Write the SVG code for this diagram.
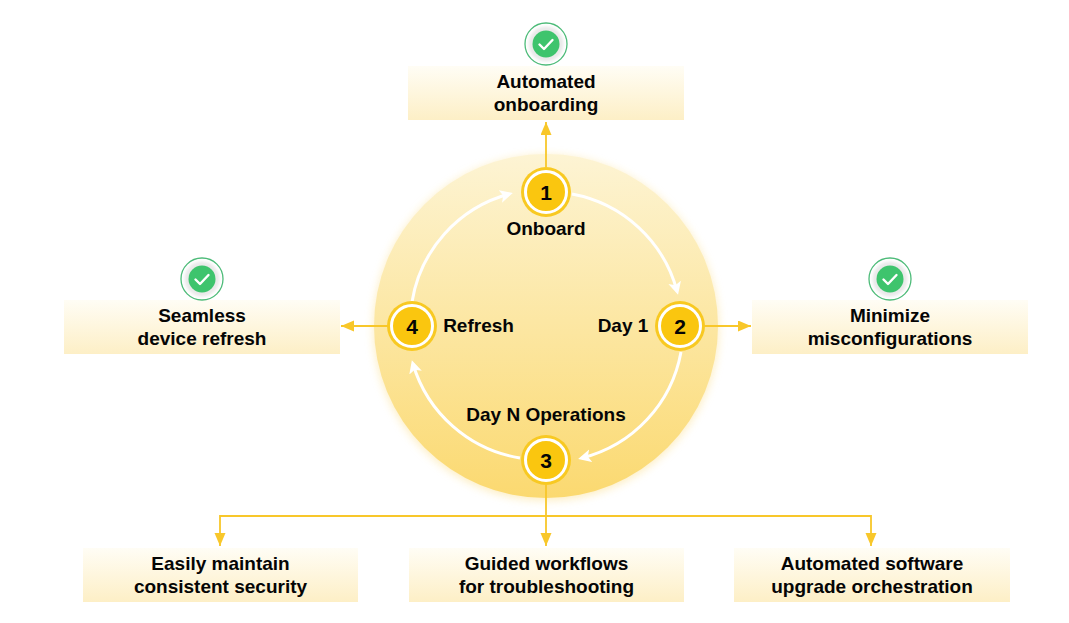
<svg xmlns="http://www.w3.org/2000/svg" width="1069" height="623" viewBox="0 0 1069 623">
<style>
text{font-family:"Liberation Sans",Arial,sans-serif;font-weight:700;fill:#050505;text-anchor:middle}
.lb{font-size:19px}
.num{font-size:21px}
.box{fill:url(#boxGrad)}
.link{fill:none;stroke:#f8c72a;stroke-width:1.8}
.orbit{fill:none;stroke:#fff;stroke-width:3;marker-end:url(#wArrow)}
.no{fill:#fac60f;stroke:#fff;stroke-width:3}
.nr{fill:#f8c922}
.tick{fill:none;stroke:#fff;stroke-width:2.4;stroke-linecap:round;stroke-linejoin:round}
</style>
<defs>
<linearGradient id="boxGrad" x1="0" y1="0" x2="0" y2="1"><stop offset="0" stop-color="#fffdf5"/><stop offset="1" stop-color="#fdefc6"/></linearGradient>
<linearGradient id="discGrad" x1="0" y1="0" x2="0" y2="1"><stop offset="0" stop-color="#fdf4d4"/><stop offset="1" stop-color="#fbd970"/></linearGradient>
<filter id="glow" x="-20%" y="-20%" width="140%" height="140%"><feGaussianBlur stdDeviation="5"/></filter>
<filter id="soft" x="-30%" y="-30%" width="160%" height="160%"><feGaussianBlur stdDeviation="1.5"/></filter>
<marker id="yArrow" markerUnits="userSpaceOnUse" markerWidth="14" markerHeight="12" refX="13" refY="5.5" orient="auto"><path d="M0 0L13 5.5L0 11Z" fill="#f8c72a"/></marker>
<marker id="wArrow" markerUnits="userSpaceOnUse" markerWidth="16" markerHeight="14" refX="9" refY="6.5" orient="auto"><path d="M0 0L13 6.5L0 13L3 6.5Z" fill="#fff"/></marker>
<g id="checkIcon">
<circle r="21" fill="#fff" stroke="#4cbb78" stroke-width="1.3"/>
<circle r="17.5" fill="#e9e9e9" filter="url(#soft)"/>
<circle r="13.5" fill="#3ec46d"/>
<path class="tick" d="M-6.5 0.5L-2 5L6.5 -4"/>
</g>
</defs>

<g id="disc">
<circle cx="546" cy="328" r="172" fill="#fbdc82" opacity=".55" filter="url(#glow)"/>
<circle cx="546" cy="326" r="172" fill="url(#discGrad)"/>
</g>

<g id="connectors">
<path class="link" d="M546 167V122" marker-end="url(#yArrow)"/>
<path class="link" d="M704 326H751" marker-end="url(#yArrow)"/>
<path class="link" d="M388 326H341" marker-end="url(#yArrow)"/>
<path class="link" d="M546 485V546" marker-end="url(#yArrow)"/>
<path class="link" d="M546 516H220V546" marker-end="url(#yArrow)"/>
<path class="link" d="M546 516H871V546" marker-end="url(#yArrow)"/>
<path class="orbit" d="M572 194A134 134 0 0 1 677 291"/>
<path class="orbit" d="M681 352A134 134 0 0 1 582 458"/>
<path class="orbit" d="M520 458A134 134 0 0 1 413 364"/>
<path class="orbit" d="M412 302A134 134 0 0 1 509 194"/>
</g>

<g id="box-onboarding"><rect class="box" x="408" y="66" width="276" height="54"/><text class="lb" x="546" y="88">Automated</text><text class="lb" x="546" y="111">onboarding</text><use href="#checkIcon" x="546" y="44"/></g>
<g id="box-refresh"><rect class="box" x="64" y="300" width="276" height="54"/><text class="lb" x="202" y="322">Seamless</text><text class="lb" x="202" y="345">device refresh</text><use href="#checkIcon" x="202" y="279"/></g>
<g id="box-misconfig"><rect class="box" x="752" y="300" width="276" height="54"/><text class="lb" x="890" y="322">Minimize</text><text class="lb" x="890" y="345">misconfigurations</text><use href="#checkIcon" x="890" y="279"/></g>
<g id="box-security"><rect class="box" x="83" y="548" width="275" height="54"/><text class="lb" x="220.500" y="570">Easily maintain</text><text class="lb" x="220.500" y="593">consistent security</text></g>
<g id="box-workflows"><rect class="box" x="409" y="548" width="275" height="54"/><text class="lb" x="546.500" y="570">Guided workflows</text><text class="lb" x="546.500" y="593">for troubleshooting</text></g>
<g id="box-upgrade"><rect class="box" x="734" y="548" width="276" height="54"/><text class="lb" x="872" y="570">Automated software</text><text class="lb" x="872" y="593">upgrade orchestration</text></g>

<g id="node-1"><circle class="nr" cx="546" cy="192" r="25"/><circle class="no" cx="546" cy="192" r="20.500"/><text class="num" x="546" y="199.500">1</text><text class="lb" x="546" y="235">Onboard</text></g>
<g id="node-2"><circle class="nr" cx="680" cy="326" r="25"/><circle class="no" cx="680" cy="326" r="20.500"/><text class="num" x="680" y="333.500">2</text><text class="lb" x="623" y="332">Day 1</text></g>
<g id="node-3"><circle class="nr" cx="546" cy="460" r="25"/><circle class="no" cx="546" cy="460" r="20.500"/><text class="num" x="546" y="467.500">3</text><text class="lb" x="546" y="421">Day N Operations</text></g>
<g id="node-4"><circle class="nr" cx="412" cy="326" r="25"/><circle class="no" cx="412" cy="326" r="20.500"/><text class="num" x="412" y="333.500">4</text><text class="lb" x="478.500" y="332">Refresh</text></g>
</svg>
